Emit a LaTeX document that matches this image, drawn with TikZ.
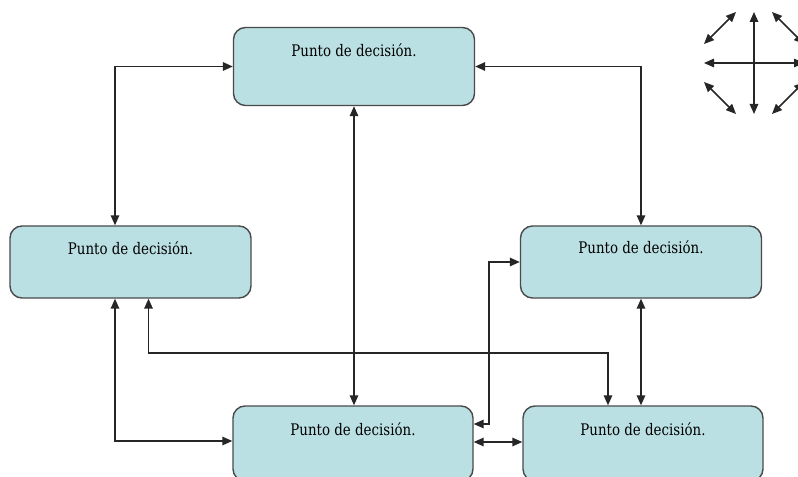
\documentclass[tikz,border=0pt]{standalone}
\usepackage{fontspec}
\newfontfamily\boxfont[FakeStretch=0.84]{DejaVu Serif}
\usetikzlibrary{arrows.meta}
\definecolor{boxfill}{HTML}{BBE0E3}
\definecolor{boxline}{HTML}{4A4A4A}
\begin{document}
\begin{tikzpicture}[x=1bp,y=-1bp,
  decision/.style={draw=boxline,line width=1.4bp,fill=boxfill,rounded corners=12bp,
    minimum width=241bp,inner sep=0pt},
  caption/.style={font=\boxfont\fontsize{16}{19}\selectfont,inner sep=0pt,anchor=center},
  link/.style={line width=1.5bp,draw=black!85,{Triangle[length=10bp,width=8.5bp]}-{Triangle[length=10bp,width=8.5bp]}}]
\useasboundingbox (0,0) rectangle (798,477);
\clip (0,0) rectangle (798,477);
\fill[white] (0,0) rectangle (798,477);

% decision points
\node[decision,minimum height=78bp] (top) at (354,66.5) {};
\node[decision,minimum height=72bp] (lft) at (130.5,262) {};
\node[decision,minimum height=72bp] (rgt) at (641,262) {};
\node[decision,minimum height=75bp,minimum width=240bp] (bmid) at (353,443.5) {};
\node[decision,minimum height=75bp,minimum width=240bp] (brgt) at (643,443.5) {};

\node[caption] (toptext) at ([yshift=-23bp]top.north) {Punto de decisión.};
\node[caption] (lfttext) at ([yshift=-23bp]lft.north) {Punto de decisión.};
\node[caption] (rgttext) at ([yshift=-22bp]rgt.north) {Punto de decisión.};
\node[caption] (bmidtext) at ([yshift=-24bp]bmid.north) {Punto de decisión.};
\node[caption] (brgttext) at ([yshift=-24bp]brgt.north) {Punto de decisión.};

% connectors
\draw[link] ([xshift=-15.5bp]lft.north) |- (top.west);
\draw[link] (top.east) -| (rgt.north);
\draw[link] (top.south) -- (top.south |- bmid.north);
\draw[link] ([xshift=-15.5bp]lft.south) |- ([yshift=2.5bp]bmid.west);
\draw[link] ([xshift=18bp]lft.south) -- ++(0,54.5) -| ([xshift=-35bp]brgt.north);
\draw[link] (rgt.south) -- (rgt.south |- brgt.north);
\draw[link] (rgt.west) -- ++(-31,0) |- ([yshift=19.5bp]bmid.east);
\draw[link] ([yshift=1.5bp]bmid.east) -- ([yshift=1.5bp]brgt.west);

% compass rose
\begin{scope}[link]
\draw (754,12) -- (754,114);
\draw (704,63) -- (804,63);
\draw (704,44) -- (736,12);
\draw (704,82) -- (736,114);
\draw (772,12) -- (804,44);
\draw (772,114) -- (804,82);
\end{scope}
\end{tikzpicture}
\end{document}
